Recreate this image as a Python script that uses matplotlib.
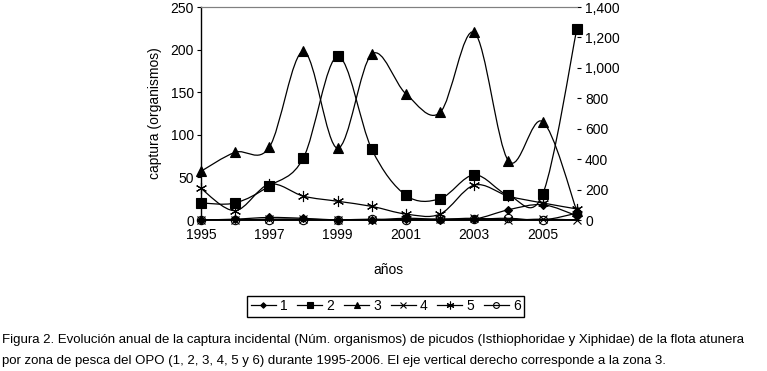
import numpy as np
import matplotlib.pyplot as plt
from matplotlib.path import Path
from matplotlib.patches import PathPatch
from matplotlib.lines import Line2D

years = list(range(1995, 2007))
zona1 = [0, 1, 3, 2, 0, 0, 1, 0, 1, 12, 18, 5]
zona2 = [20, 20, 40, 73, 192, 83, 29, 25, 53, 29, 30, 224]
zona3 = [320, 445, 478, 1108, 472, 1091, 829, 707, 1233, 388, 647, 60]   # eje derecho
zona4 = [0, 0, 1, 1, 0, 0, 2, 1, 2, 0, 1, 0]
zona5 = [37, 11, 42, 28, 22, 16, 7, 7, 41, 28, 20, 13]
zona6 = [0, 0, 0, 0, 0, 1, 0, 1, 1, 2, 0, 8]

caption = ("Figura 2. Evolución anual de la captura incidental (Núm. organismos) de picudos "
           "(Isthiophoridae y Xiphidae) de la flota atunera\n"
           "por zona de pesca del OPO (1, 2, 3, 4, 5 y 6) durante 1995-2006. "
           "El eje vertical derecho corresponde a la zona 3.")

plt.rcParams['font.family'] = ['Liberation Sans', 'DejaVu Sans']


def smooth_path(ax, x, y):
    # excel-style smoothed line: cubic bezier segments through the data points
    x = np.asarray(x, float)
    y = np.asarray(y, float)
    verts = [(x[0], y[0])]
    codes = [Path.MOVETO]
    n = len(x)
    for i in range(n - 1):
        p0 = (x[max(i - 1, 0)], y[max(i - 1, 0)])
        p1 = (x[i], y[i])
        p2 = (x[i + 1], y[i + 1])
        p3 = (x[min(i + 2, n - 1)], y[min(i + 2, n - 1)])
        c1 = (p1[0] + (p2[0] - p0[0]) / 6, p1[1] + (p2[1] - p0[1]) / 6)
        c2 = (p2[0] - (p3[0] - p1[0]) / 6, p2[1] - (p3[1] - p1[1]) / 6)
        verts += [c1, c2, p2]
        codes += [Path.CURVE4] * 3
    ax.add_patch(PathPatch(Path(verts, codes), fill=False, lw=0.9, ec='black', zorder=2))


fig = plt.figure(figsize=(7.67, 3.71), dpi=100)
ax = fig.add_axes([0.262, 0.407, 0.490, 0.574])
ax2 = ax.twinx()

series = [
    (ax, zona1, 'D', 4, 'black', '1'),
    (ax, zona2, 's', 7, 'black', '2'),
    (ax2, zona3, '^', 7, 'black', '3'),
    (ax, zona4, 'x', 6, 'black', '4'),
    (ax, zona5, (6, 2, 0), 8, 'black', '5'),
    (ax, zona6, 'o', 6, 'none', '6'),
]

handles = []
for a, vals, mk, ms, fc, lab in series:
    smooth_path(a, years, vals)
    a.plot(years, vals, linestyle='none', marker=mk, ms=ms, mfc=fc, mec='black',
           mew=0.8, zorder=3, clip_on=False)
    handles.append(Line2D([], [], color='black', lw=0.9, marker=mk, ms=ms * 0.7,
                          mfc=fc, mec='black', mew=0.8, label=lab))

ax.set_xlim(1995, 2006)
ax.set_ylim(0, 250)
ax2.set_ylim(0, 1400)
ax.set_xticks(range(1995, 2006, 2))
ax.set_yticks(range(0, 251, 50))
ax2.set_yticks(range(0, 1401, 200))
ax2.set_yticklabels([f'{v:,}' for v in range(0, 1401, 200)])

for a in (ax, ax2):
    a.tick_params(labelsize=10, length=3, width=0.8, colors='black')
ax.tick_params(axis='x', length=0, pad=6)
ax.tick_params(axis='y', length=3, direction='out', pad=2)
ax2.tick_params(axis='y', length=3, direction='out', pad=3)

for a in (ax, ax2):
    a.spines['right'].set_visible(False)
    a.spines['top'].set_color('#808080')
    a.spines['top'].set_linewidth(0.8)
    a.spines['left'].set_linewidth(1.0)
    a.spines['bottom'].set_linewidth(1.2)
ax2.spines['left'].set_visible(False)

ax.set_ylabel('captura (organismos)', fontsize=10, labelpad=6)
ax.set_xlabel('años', fontsize=10, labelpad=15)

fig.legend(handles=handles, loc='center', bbox_to_anchor=(0.503, 0.175),
           ncol=6, frameon=True, fancybox=False, edgecolor='black', fontsize=10,
           handlelength=1.8, handletextpad=0.3, columnspacing=0.7,
           borderpad=0.25, framealpha=1)

fig.text(0.003, 1 - 334 / 371, caption, fontsize=9.55,
         ha='left', va='top', linespacing=1.95)

fig.savefig('out.png', dpi=100)
